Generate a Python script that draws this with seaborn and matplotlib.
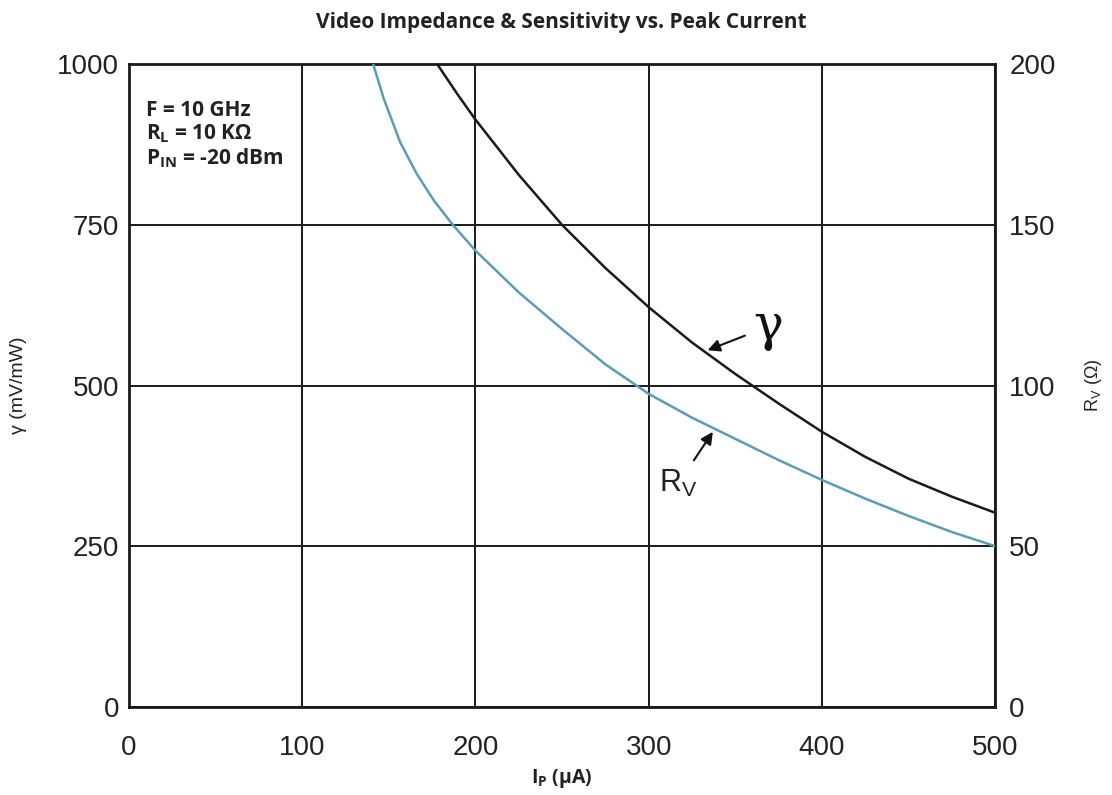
import matplotlib
matplotlib.use("Agg")
import matplotlib.pyplot as plt
import seaborn as sns
import pandas as pd

# ---- data ----
gamma_ip = [178, 190, 200, 225, 250, 275, 300, 325, 350, 375, 400, 425, 450, 475, 500]
gamma_val = [1000, 952, 914, 828, 750, 683, 622, 567, 518, 472, 428, 389, 355, 327, 302]

rv_ip = [141, 147, 156.5, 166, 176, 187, 200, 225, 250, 275, 293, 300, 325, 350, 375, 400, 425, 450, 475, 500]
rv_val = [200, 189.4, 175.8, 166, 157.6, 150, 142, 129, 117.6, 106.6, 100, 97.4, 90, 83.4, 76.8, 70.6, 64.8, 59.4, 54.4, 50]

x_ticks = [0, 100, 200, 300, 400, 500]
left_ticks = [0, 250, 500, 750, 1000]
right_ticks = [0, 50, 100, 150, 200]

sns.set_style("white")
plt.rcParams['font.family'] = ['Liberation Sans', 'DejaVu Sans']
plt.rcParams['mathtext.fontset'] = 'custom'
plt.rcParams['mathtext.rm'] = 'Liberation Sans'
plt.rcParams['mathtext.bf'] = 'Open Sans:bold'
plt.rcParams['lines.solid_joinstyle'] = 'round'

fig = plt.figure(figsize=(11.12, 7.95), dpi=100)
ax = fig.add_axes([0.116, 0.111, 0.779, 0.808])

df_g = pd.DataFrame({"Ip": gamma_ip, "val": gamma_val})
df_r = pd.DataFrame({"Ip": rv_ip, "val": rv_val})

sns.lineplot(data=df_g, x="Ip", y="val", ax=ax, color="#1a1a1a", lw=1.8, sort=True)
ax.set_xlim(0, 500)
ax.set_ylim(0, 1000)
ax.set_xticks(x_ticks)
ax.set_yticks(left_ticks)
ax.grid(True, color="#1a1a1a", lw=1.4)
for s in ax.spines.values():
    s.set_color("#1a1a1a")
    s.set_linewidth(2)
ax.tick_params(axis='both', length=0, labelsize=20, colors="#222222")
ax.tick_params(axis='x', pad=20)
ax.tick_params(axis='y', pad=7)

ax2 = ax.twinx()
sns.lineplot(data=df_r, x="Ip", y="val", ax=ax2, color="#5b9db6", lw=1.8, sort=True)
ax2.set_ylim(0, 200)
ax2.set_yticks(right_ticks)
ax2.tick_params(axis='y', length=0, labelsize=20, pad=10, colors="#222222")
ax2.grid(False)
for s in ax2.spines.values():
    s.set_visible(False)

ax.set_xlabel(r"I$_\mathbf{P}$ (µA)", fontsize=14, family="Open Sans", fontweight="bold",
              labelpad=5, color="#222222")
ax.set_ylabel("γ (mV/mW)", fontsize=14, labelpad=22, color="#222222")
ax2.set_ylabel(r"R$_\mathregular{V}$ (Ω)", fontsize=13, labelpad=20, color="#222222")

fig.suptitle("Video Impedance & Sensitivity vs. Peak Current", x=0.505, y=0.985,
             fontsize=15, family="Open Sans", fontweight="bold", color="#222222")

ax.text(10, 945, "F = 10 GHz\n" + r"R$_\mathbf{L}$ = 10 KΩ" + "\n" + r"P$_\mathbf{IN}$ = -20 dBm",
        fontsize=15, family="Open Sans", fontweight="bold", color="#222222",
        va="top", ha="left", linespacing=1.1)

ax.annotate("γ", xy=(334, 555), xytext=(369, 592), fontsize=36, family="DejaVu Serif",
            ha="center", va="center", color="#111111",
            arrowprops=dict(arrowstyle="-|>", color="#111111", lw=1.5,
                            shrinkA=4, shrinkB=0, mutation_scale=18))
ax.annotate(r"R$_\mathregular{V}$", xy=(337, 428), xytext=(317, 347), fontsize=22,
            ha="center", va="center", color="#222222",
            arrowprops=dict(arrowstyle="-|>", color="#111111", lw=1.5,
                            shrinkA=4, shrinkB=0, mutation_scale=18))

fig.savefig("out.png", dpi=100)
